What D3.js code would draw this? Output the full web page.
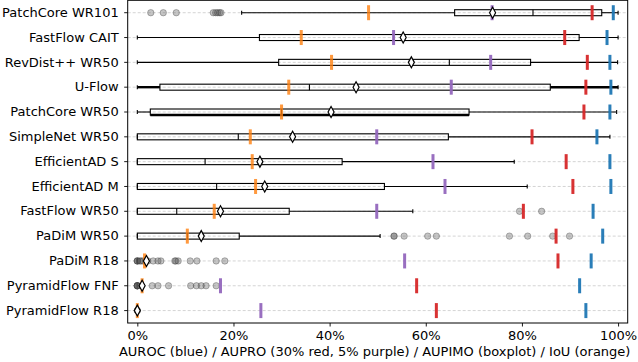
<!DOCTYPE html>
<html>
<head>
<meta charset="utf-8">
<script src="https://cdn.jsdelivr.net/npm/d3@7"></script>
<style>
  body { margin: 0; background: #fff; }
  svg { display: block; font-family: "DejaVu Sans", sans-serif; }
</style>
</head>
<body>
<svg id="chart"></svg>
<script>
// methods, top to bottom
const methods = [
  'PatchCore WR101', 'FastFlow CAIT', 'RevDist++ WR50', 'U-Flow', 'PatchCore WR50',
  'SimpleNet WR50', 'EfficientAD S', 'EfficientAD M', 'FastFlow WR50', 'PaDiM WR50',
  'PaDiM R18', 'PyramidFlow FNF', 'PyramidFlow R18'
];

// image-level / pixel-level metrics (single values per method)
const auroc   = [0.990, 0.977, 0.983, 0.985, 0.983, 0.956, 0.983, 0.985, 0.948, 0.968, 0.944, 0.920, 0.933];
const aupro30 = [0.946, 0.889, 0.936, 0.933, 0.929, 0.821, 0.892, 0.906, 0.803, 0.871, 0.875, 0.581, 0.622];
const aupro05 = [0.738, 0.533, 0.735, 0.653, null, 0.498, 0.615, 0.640, 0.498, null, 0.556, 0.173, 0.257];
const iou     = [0.481, 0.341, 0.404, 0.315, 0.300, 0.235, 0.239, 0.246, 0.160, 0.104, 0.015, 0.010, 0.000];

// AUPIMO distribution (boxplot stats)
const whiskerLo = [0.217, 0.000, 0.000, 0.000, 0.000, 0.000, 0.000, 0.000, 0.000, 0.000, 0.000, 0.000, 0.000];
const q1        = [0.660, 0.254, 0.294, 0.047, 0.027, 0.000, 0.000, 0.000, 0.000, 0.000, 0.000, 0.000, 0.000];
const median    = [0.823, 0.533, 0.649, 0.358, 0.300, 0.210, 0.141, 0.165, 0.082, 0.104, 0.000, 0.000, 0.000];
const q3        = [0.966, 0.919, 0.818, 0.859, 0.690, 0.647, 0.426, 0.514, 0.316, 0.212, 0.000, 0.000, 0.000];
const whiskerHi = [1.000, 1.000, 0.999, 1.000, 0.997, 0.983, 0.784, 0.811, 0.573, 0.505, 0.000, 0.000, 0.000];
const mean      = [0.739, 0.553, 0.570, 0.455, 0.403, 0.323, 0.255, 0.265, 0.173, 0.133, 0.019, 0.010, 0.000];
const fliers = [
  [0.028, 0.054, 0.081, 0.158, 0.163, 0.167, 0.171, 0.174],
  [], [], [], [], [], [], [],
  [0.795, 0.841],
  [0.534, 0.534, 0.555, 0.604, 0.622, 0.774, 0.812, 0.864, 0.899],
  [0, 0, 0, 0.005, 0.008, 0.012, 0.018, 0.022, 0.033, 0.043, 0.049, 0.078, 0.080, 0.085, 0.110, 0.124, 0.164, 0.182],
  [0, 0, 0, 0, 0, 0.031, 0.043, 0.065, 0.111, 0.123, 0.133, 0.143, 0.164],
  [0, 0]
];

const xTicks = [0, 0.2, 0.4, 0.6, 0.8, 1.0];
const xLabel = 'AUROC (blue) / AUPRO (30% red, 5% purple) / AUPIMO (boxplot) / IoU (orange)';

const width = 638, height = 362;
const margin = { top: 0.3, right: 10.3, bottom: 39, left: 127.7 };
const innerW = width - margin.left - margin.right;
const innerH = height - margin.top - margin.bottom;

const svg = d3.select('#chart').attr('width', width).attr('height', height);
const g = svg.append('g').attr('transform', `translate(${margin.left},${margin.top})`);

const x = d3.scaleLinear().domain([-0.02, 1.02]).range([0, innerW]);
const y = d3.scaleBand().domain(methods).range([0, innerH]).padding(0);
const cy = (m) => y(m) + y.bandwidth() / 2;

const boxH = 6, capH = 4, tickH = 15, tickW = 3;

// dashed horizontal grid per method
g.append('g')
  .selectAll('line')
  .data(methods)
  .join('line')
  .attr('x1', 0).attr('x2', innerW)
  .attr('y1', cy).attr('y2', cy)
  .attr('stroke', '#cfcfcf')
  .attr('stroke-width', 0.9)
  .attr('stroke-dasharray', '3,2');

// boxplots
// U-Flow whiskers and the PatchCore WR50 box edge render heavier in the original
const heavyWhisker = new Set(['U-Flow']);
const heavyBoxEdge = new Set(['PatchCore WR50']);

const boxes = g.append('g')
  .selectAll('g')
  .data(methods)
  .join('g')
  .attr('transform', (m) => `translate(0,${cy(m)})`);

boxes.append('line')
  .attr('x1', (m, i) => x(whiskerLo[i])).attr('x2', (m, i) => x(q1[i]))
  .attr('stroke', '#000')
  .attr('stroke-width', (m) => heavyWhisker.has(m) ? 2.4 : 1.1);
boxes.append('line')
  .attr('x1', (m, i) => x(q3[i])).attr('x2', (m, i) => x(whiskerHi[i]))
  .attr('stroke', '#000')
  .attr('stroke-width', (m) => heavyWhisker.has(m) ? 2.4 : 1.1);
boxes.append('line')
  .attr('x1', (m, i) => x(whiskerLo[i])).attr('x2', (m, i) => x(whiskerLo[i]))
  .attr('y1', -capH / 2).attr('y2', capH / 2)
  .attr('stroke', '#000').attr('stroke-width', 1.1);
boxes.append('line')
  .attr('x1', (m, i) => x(whiskerHi[i])).attr('x2', (m, i) => x(whiskerHi[i]))
  .attr('y1', -capH / 2).attr('y2', capH / 2)
  .attr('stroke', '#000').attr('stroke-width', 1.1);
boxes.append('rect')
  .attr('x', (m, i) => x(q1[i]))
  .attr('width', (m, i) => x(q3[i]) - x(q1[i]))
  .attr('y', -boxH / 2).attr('height', boxH)
  .attr('fill', 'none')
  .attr('stroke', '#000').attr('stroke-width', 1.1);
boxes.filter((m) => heavyBoxEdge.has(m))
  .append('line')
  .attr('x1', (m) => x(q1[methods.indexOf(m)]))
  .attr('x2', (m) => x(q3[methods.indexOf(m)]))
  .attr('y1', boxH / 2).attr('y2', boxH / 2)
  .attr('stroke', '#000').attr('stroke-width', 2.4);
boxes.append('line')
  .attr('x1', (m, i) => x(median[i])).attr('x2', (m, i) => x(median[i]))
  .attr('y1', -boxH / 2).attr('y2', boxH / 2)
  .attr('stroke', '#000').attr('stroke-width', 1.1);

// outliers
boxes.selectAll('circle.flier')
  .data((m, i) => fliers[i])
  .join('circle')
  .attr('class', 'flier')
  .attr('cx', (d) => x(d))
  .attr('r', 3.2)
  .attr('fill', 'rgba(90,90,90,0.35)')
  .attr('stroke', 'rgba(60,60,60,0.35)')
  .attr('stroke-width', 1);

// single-value metrics as vertical ticks
const metricSets = [
  { values: iou, color: '#ff7f0e', opacity: 0.8 },
  { values: aupro05, color: '#9467bd', opacity: 0.95 },
  { values: aupro30, color: '#d62728', opacity: 0.95 },
  { values: auroc, color: '#1f77b4', opacity: 0.95 }
];
metricSets.forEach((s) => {
  g.append('g')
    .selectAll('rect')
    .data(methods.map((m, i) => ({ m, v: s.values[i] })).filter((d) => d.v !== null))
    .join('rect')
    .attr('x', (d) => x(d.v) - tickW / 2)
    .attr('width', tickW)
    .attr('y', (d) => cy(d.m) - tickH / 2)
    .attr('height', tickH)
    .attr('fill', s.color)
    .attr('opacity', s.opacity);
});

// mean diamonds
g.append('g')
  .selectAll('path')
  .data(methods)
  .join('path')
  .attr('transform', (m, i) => `translate(${x(mean[i])},${cy(m)})`)
  .attr('d', 'M0,-5.5L3,0L0,5.5L-3,0Z')
  .attr('fill', '#fff')
  .attr('stroke', '#000')
  .attr('stroke-width', 1.2);

// axes
const xAxis = g.append('g')
  .attr('transform', `translate(0,${innerH})`)
  .call(d3.axisBottom(x).tickValues(xTicks).tickFormat(d3.format('.0%')).tickSize(3.5).tickPadding(4));
const yAxis = g.append('g')
  .call(d3.axisLeft(y).tickSize(3.5).tickPadding(5.5));
[xAxis, yAxis].forEach((a) => {
  a.select('.domain').remove();
  a.selectAll('text').attr('font-size', 13).attr('fill', '#000').attr('font-family', 'DejaVu Sans');
  a.selectAll('line').attr('stroke', '#000').attr('stroke-width', 0.9);
});

// frame
g.append('rect')
  .attr('width', innerW).attr('height', innerH)
  .attr('fill', 'none')
  .attr('stroke', '#000')
  .attr('stroke-width', 1);

svg.append('text')
  .attr('x', margin.left + innerW / 2 - 3)
  .attr('y', height - 6)
  .attr('text-anchor', 'middle')
  .attr('font-size', 13)
  .attr('fill', '#000')
  .text(xLabel);
</script>
</body>
</html>
